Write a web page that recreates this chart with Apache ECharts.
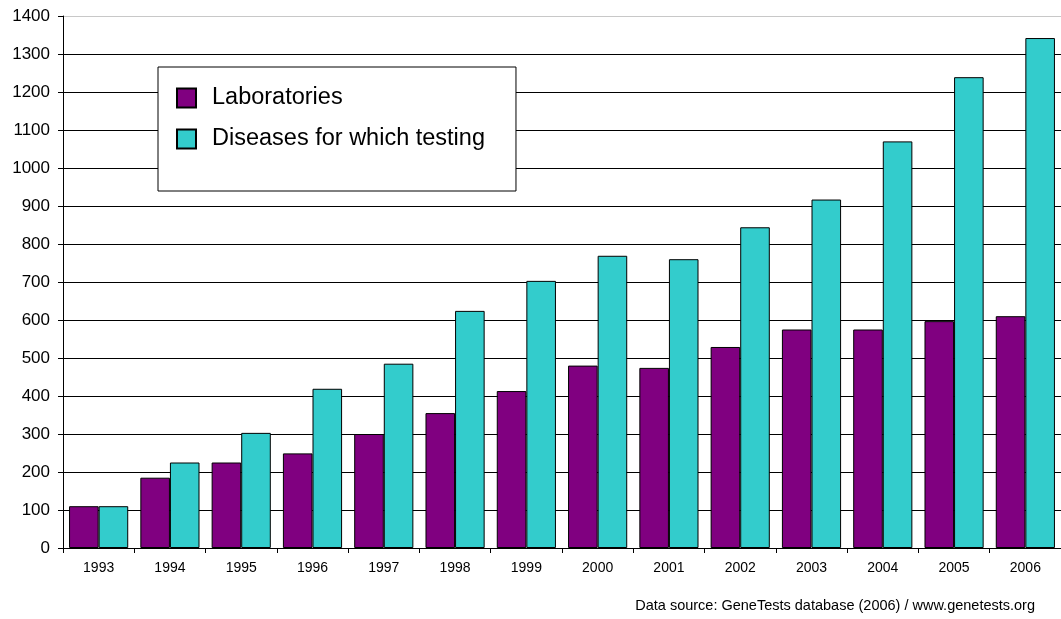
<!DOCTYPE html>
<html>
<head>
<meta charset="utf-8">
<script src="https://cdn.jsdelivr.net/npm/echarts@6/dist/echarts.min.js"></script>
<style>
  html, body { margin: 0; padding: 0; background: #fff; }
  #chart { width: 1061px; height: 619px; }
</style>
</head>
<body>
<div id="chart"></div>
<script>
const years = ['1993', '1994', '1995', '1996', '1997', '1998', '1999', '2000', '2001', '2002', '2003', '2004', '2005', '2006'];
const laboratories = [110, 185, 225, 249, 300, 355, 413, 480, 474, 529, 575, 575, 597, 610];
const diseases = [110, 225, 303, 419, 485, 624, 703, 769, 760, 844, 917, 1070, 1239, 1342];

const font = '"Liberation Sans", Arial, sans-serif';

// grid lines: black, top one light gray
const gridColors = [];
for (let i = 0; i < 14; i++) gridColors.push('#000');
gridColors.push('#c8c8c8');

const chart = echarts.init(document.getElementById('chart'));

const option = {
  animation: false,
  backgroundColor: '#fff',
  title: {
    text: 'Data source: GeneTests database (2006) / www.genetests.org',
    right: 26,
    top: 598,
    padding: 0,
    textStyle: { fontFamily: font, fontSize: 14.5, fontWeight: 'normal', color: '#000' },
  },
  legend: {
    orient: 'vertical',
    left: 158,
    top: 67,
    padding: [19, 31, 40, 18],
    itemWidth: 19,
    itemHeight: 19,
    itemGap: 17,
    icon: 'rect',
    borderColor: '#000',
    borderWidth: 1,
    backgroundColor: '#fff',
    textStyle: { fontFamily: font, fontSize: 23.5, color: '#000', padding: [0, 0, 0, 11] },
    data: ['Laboratories', 'Diseases for which testing'],
  },
  grid: { left: 63, top: 16, width: 1000, height: 532 },
  xAxis: {
    type: 'category',
    data: years,
    axisLine: { lineStyle: { color: '#000', width: 1 } },
    axisTick: { show: true, length: 5, lineStyle: { color: '#000' } },
    axisLabel: { fontFamily: font, fontSize: 14, color: '#000', margin: 13 },
  },
  yAxis: {
    type: 'value',
    min: 0,
    max: 1400,
    interval: 100,
    axisLine: { show: true, lineStyle: { color: '#000', width: 1 } },
    axisTick: { show: true, length: 5, lineStyle: { color: '#000' } },
    axisLabel: { fontFamily: font, fontSize: 17, color: '#000', margin: 13, formatter: (v) => String(v) },
    splitLine: { show: true, lineStyle: { color: gridColors, width: 1 } },
  },
  series: [
    {
      name: 'Laboratories',
      type: 'bar',
      data: laboratories,
      barGap: '0%',
      barCategoryGap: '17%',
      itemStyle: { color: '#800080', borderColor: '#000', borderWidth: 1 },
    },
    {
      name: 'Diseases for which testing',
      type: 'bar',
      data: diseases,
      itemStyle: { color: '#33cccc', borderColor: '#000', borderWidth: 1 },
    },
  ],
};

chart.setOption(option);
</script>
</body>
</html>
